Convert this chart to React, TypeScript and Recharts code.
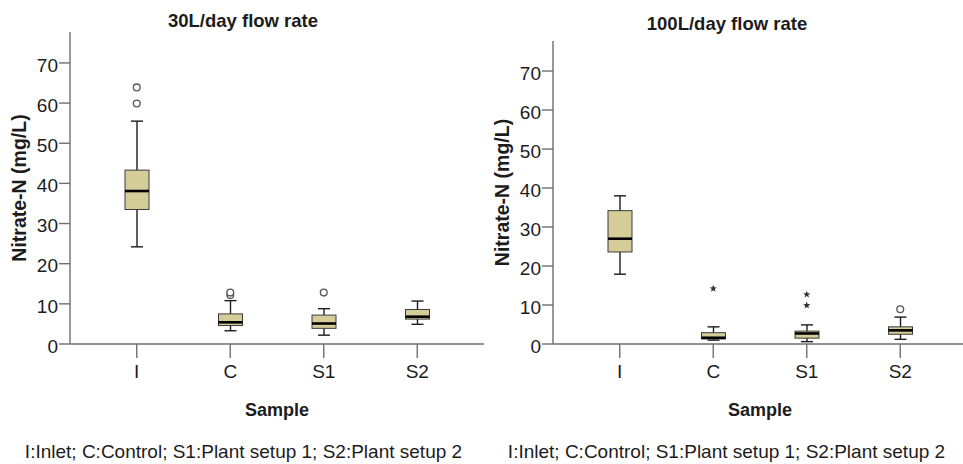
import React from "react";
import { ComposedChart, Bar, Scatter, XAxis, YAxis } from "recharts";

const categories = ["I", "C", "S1", "S2"];
const yTicks = [0, 10, 20, 30, 40, 50, 60, 70];
const yMax = 77.7;

// 30L/day flow rate
const low30 = [24.2, 3.3, 2.2, 4.9];
const q1_30 = [33.5, 4.6, 3.9, 6.2];
const med30 = [38.1, 5.4, 5.1, 6.8];
const q3_30 = [43.3, 7.5, 7.2, 8.6];
const high30 = [55.5, 10.8, 8.8, 10.7];
const circles30 = [[59.9, 63.9], [12.2, 12.8], [12.8], []];
const stars30: number[][] = [[], [], [], []];

// 100L/day flow rate
const low100 = [17.9, 1.0, 0.6, 1.2];
const q1_100 = [23.6, 1.3, 1.5, 2.5];
const med100 = [27.0, 1.6, 2.7, 3.5];
const q3_100 = [34.2, 2.9, 3.3, 4.4];
const high100 = [38.0, 4.4, 4.9, 6.9];
const circles100: number[][] = [[], [], [], [8.9]];
const stars100 = [[], [14.2], [9.9, 12.7], []];

const caption = "I:Inlet; C:Control; S1:Plant setup 1; S2:Plant setup 2";

const AXIS = "#6f6f6f";
const INK = "#1c1c1c";
const FILL = "#d4cd99";

function buildRows(low, q1, med, q3, high, circ, star) {
  return categories.map((name, i) => ({
    name,
    whisker: [low[i], high[i]],
    box: [q1[i], q3[i]],
    medRange: [q1[i], med[i]],
    c1: circ[i][0] ?? null,
    c2: circ[i][1] ?? null,
    s1: star[i][0] ?? null,
    s2: star[i][1] ?? null,
  }));
}

const rows30 = buildRows(low30, q1_30, med30, q3_30, high30, circles30, stars30);
const rows100 = buildRows(low100, q1_100, med100, q3_100, high100, circles100, stars100);

const Whisker = (p: any) => {
  const cx = p.x + p.width / 2;
  const y1 = p.y;
  const y2 = p.y + p.height;
  return (
    <g stroke={INK} strokeWidth={1.4}>
      <line x1={cx} x2={cx} y1={y1} y2={y2} />
      <line x1={cx - 6} x2={cx + 6} y1={y1} y2={y1} />
      <line x1={cx - 6} x2={cx + 6} y1={y2} y2={y2} />
    </g>
  );
};

const Box = (p: any) => (
  <rect x={p.x} y={p.y} width={p.width} height={p.height} fill={FILL} stroke="#3a3a3a" strokeWidth={1} />
);

const Median = (p: any) => (
  <line x1={p.x} x2={p.x + p.width} y1={p.y} y2={p.y} stroke="#000" strokeWidth={2.6} />
);

const circleShape = (key: string) => (p: any) => {
  if (p.payload?.[key] == null || p.cy == null) return <g />;
  return <circle cx={p.cx} cy={p.cy} r={3.4} fill="#fff" stroke="#555" strokeWidth={1.3} />;
};

const starShape = (key: string) => (p: any) => {
  if (p.payload?.[key] == null || p.cy == null) return <g />;
  const pts: string[] = [];
  for (let k = 0; k < 10; k++) {
    const r = k % 2 === 0 ? 3.8 : 1.6;
    const a = (Math.PI / 5) * k - Math.PI / 2;
    pts.push(`${p.cx + r * Math.cos(a)},${p.cy + r * Math.sin(a)}`);
  }
  return <polygon points={pts.join(" ")} fill="#333" />;
};

function BoxChart({ rows, top }: { rows: any[]; top: number }) {
  return (
    <ComposedChart
      width={490}
      height={420}
      data={rows}
      margin={{ top, right: 6, bottom: 0, left: 0 }}
      barSize={24}
      barGap={-24}
    >
      <XAxis
        dataKey="name"
        type="category"
        interval={0}
        padding={{ left: 20, right: 20 }}
        height={76}
        tickSize={14}
        tickMargin={7}
        tick={{ fontSize: 19, fill: INK }}
        axisLine={{ stroke: AXIS, strokeWidth: 1.4 }}
        tickLine={{ stroke: AXIS, strokeWidth: 1.4 }}
        label={{
          value: "Sample",
          position: "insideBottom",
          offset: 4,
          style: { fontSize: 18, fontWeight: "bold", fill: INK },
        }}
      />
      <XAxis
        xAxisId="top"
        orientation="top"
        dataKey="name"
        height={0}
        tick={false}
        tickLine={false}
        axisLine={{ stroke: AXIS, strokeWidth: 1.4 }}
      />
      <YAxis
        type="number"
        domain={[0, yMax]}
        ticks={yTicks}
        allowDataOverflow
        width={70}
        tickSize={11}
        tickMargin={1}
        tick={{ fontSize: 19, fill: INK, dy: 2 }}
        axisLine={{ stroke: AXIS, strokeWidth: 1.4 }}
        tickLine={{ stroke: AXIS, strokeWidth: 1.4 }}
        label={{
          value: "Nitrate-N (mg/L)",
          angle: -90,
          position: "insideLeft",
          offset: 19,
          style: { textAnchor: "middle", fontSize: 19.5, fontWeight: "bold", fill: INK },
        }}
      />
      <YAxis
        yAxisId="right"
        orientation="right"
        type="number"
        domain={[0, yMax]}
        width={0}
        tick={false}
        tickLine={false}
        axisLine={{ stroke: AXIS, strokeWidth: 1.4 }}
      />
      <Bar dataKey="whisker" shape={Whisker} isAnimationActive={false} />
      <Bar dataKey="box" shape={Box} isAnimationActive={false} />
      <Bar dataKey="medRange" shape={Median} isAnimationActive={false} />
      <Scatter dataKey="c1" shape={circleShape("c1")} isAnimationActive={false} />
      <Scatter dataKey="c2" shape={circleShape("c2")} isAnimationActive={false} />
      <Scatter dataKey="s1" shape={starShape("s1")} isAnimationActive={false} />
      <Scatter dataKey="s2" shape={starShape("s2")} isAnimationActive={false} />
    </ComposedChart>
  );
}

const textBox = (left: number, top: number, width: number, size: number, bold: boolean): React.CSSProperties => ({
  position: "absolute",
  left,
  top,
  width,
  textAlign: "center",
  fontSize: size,
  lineHeight: "22px",
  fontWeight: bold ? "bold" : "normal",
  color: INK,
  whiteSpace: "nowrap",
});

export default function App() {
  return (
    <div
      style={{
        position: "absolute",
        left: 0,
        top: 0,
        width: 963,
        height: 464,
        overflow: "hidden",
        background: "#fff",
        fontFamily: "'Liberation Sans', Arial, sans-serif",
      }}
    >
      <div style={{ position: "absolute", left: 0, top: 0 }}>
        <BoxChart rows={rows30} top={32} />
      </div>
      <div style={{ position: "absolute", left: 483, top: 0 }}>
        <BoxChart rows={rows100} top={41} />
      </div>
      <div style={textBox(93, 10, 300, 18.5, true)}>30L/day flow rate</div>
      <div style={textBox(577, 13, 300, 18.5, true)}>100L/day flow rate</div>
      <div style={textBox(0, 441, 487, 19, false)}>{caption}</div>
      <div style={textBox(483, 441, 487, 19, false)}>{caption}</div>
    </div>
  );
}
